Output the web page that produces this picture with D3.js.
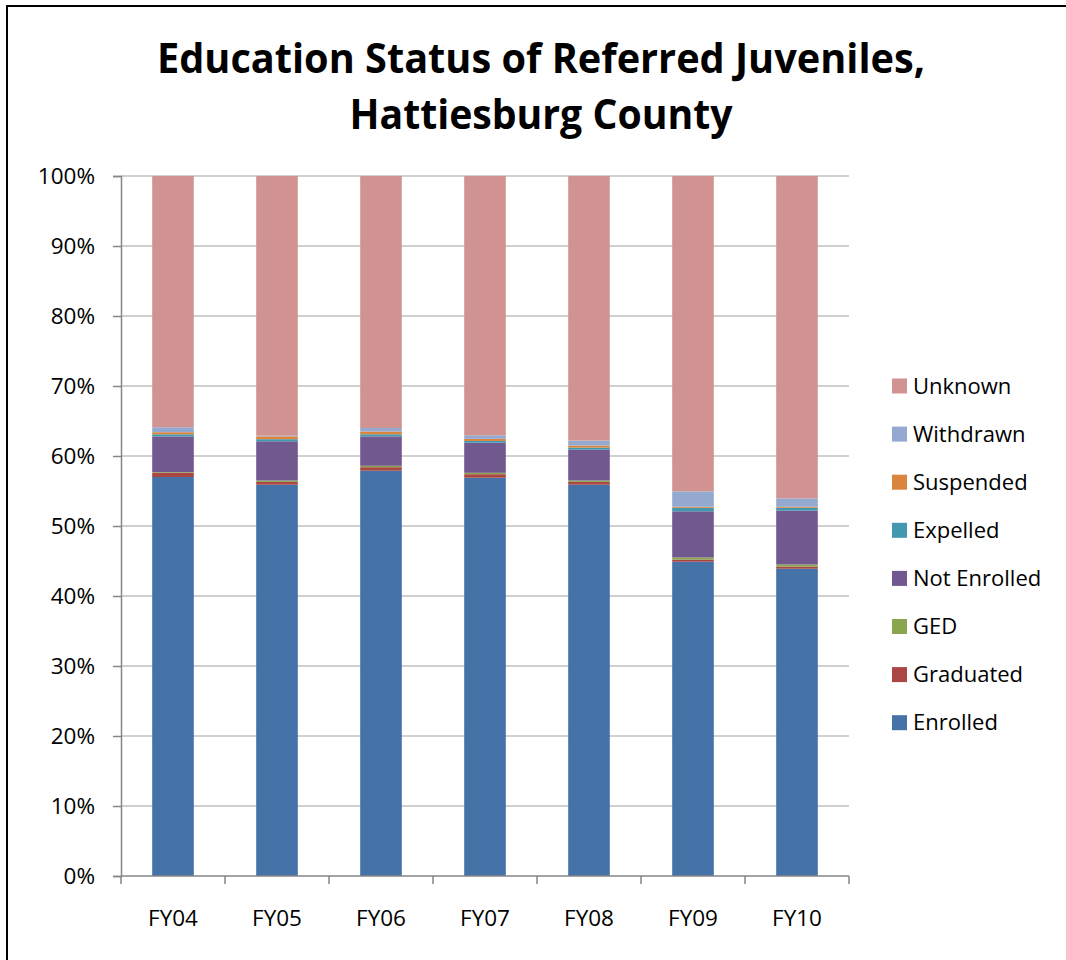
<!DOCTYPE html>
<html>
<head>
<meta charset="utf-8">
<script src="https://cdn.jsdelivr.net/npm/d3@7"></script>
<style>
  body { margin: 0; background: #fff; }
  text { font-family: "Open Sans", sans-serif; fill: #000; }
</style>
</head>
<body>
<div id="chart"></div>
<script>
// Education status of referred juveniles (percent of referrals)
const years = ['FY04', 'FY05', 'FY06', 'FY07', 'FY08', 'FY09', 'FY10'];
const statuses = ['Enrolled', 'Graduated', 'GED', 'Not Enrolled', 'Expelled', 'Suspended', 'Withdrawn', 'Unknown'];

const enrolled    = [57.0, 55.9, 57.9, 56.9, 55.9, 44.9, 43.9];
const graduated   = [0.6, 0.4, 0.5, 0.5, 0.4, 0.3, 0.3];
const ged         = [0.1, 0.2, 0.2, 0.2, 0.2, 0.3, 0.3];
const notEnrolled = [5.1, 5.6, 4.2, 4.3, 4.4, 6.6, 7.7];
const expelled    = [0.3, 0.3, 0.3, 0.25, 0.3, 0.5, 0.4];
const suspended   = [0.3, 0.4, 0.4, 0.3, 0.3, 0.15, 0.15];
const withdrawn   = [0.7, 0.1, 0.5, 0.5, 0.7, 2.2, 1.2];
const unknown     = [35.9, 37.1, 36.0, 37.05, 37.8, 45.05, 46.05];

const yTicks = [0, 10, 20, 30, 40, 50, 60, 70, 80, 90, 100];
const colors = ['#4572A7', '#AA4643', '#89A54E', '#71588F', '#4198AF', '#DB843D', '#93A9CF', '#D19392'];

const width = 1066, height = 960;
const margin = {top: 176, left: 121, right: 217, bottom: 84};

const series = [enrolled, graduated, ged, notEnrolled, expelled, suspended, withdrawn, unknown];
const rows = years.map((y, i) => {
  const r = {year: y};
  statuses.forEach((s, k) => r[s] = series[k][i]);
  return r;
});

const stacked = d3.stack()
    .keys(statuses)
    .offset(d3.stackOffsetExpand)(rows);

const x = d3.scaleBand()
    .domain(years)
    .range([margin.left, width - margin.right])
    .paddingInner(0.6)
    .paddingOuter(0.3);

const xEdges = d3.scaleLinear()
    .domain([0, years.length])
    .range([margin.left, width - margin.right]);

const y = d3.scaleLinear()
    .domain([0, 100])
    .range([height - margin.bottom, margin.top]);

const color = d3.scaleOrdinal()
    .domain(statuses)
    .range(colors);

const svg = d3.select('#chart')
  .append('svg')
    .attr('width', width)
    .attr('height', height);

// outer frame
svg.append('rect')
    .attr('x', 7)
    .attr('y', 6)
    .attr('width', width + 20)
    .attr('height', height + 20)
    .attr('fill', 'none')
    .attr('stroke', '#000')
    .attr('stroke-width', 2);

// title
const title = svg.append('g')
    .attr('font-weight', 700)
    .attr('text-anchor', 'middle');
title.append('text')
    .attr('x', 541)
    .attr('y', 73)
    .attr('font-size', 41)
    .attr('textLength', 768)
    .attr('lengthAdjust', 'spacingAndGlyphs')
    .text('Education Status of Referred Juveniles,');
title.append('text')
    .attr('x', 541)
    .attr('y', 129)
    .attr('font-size', 41)
    .attr('textLength', 383)
    .attr('lengthAdjust', 'spacingAndGlyphs')
    .text('Hattiesburg County');

// gridlines
svg.append('g')
    .selectAll('line')
    .data(yTicks.filter(d => d > 0))
    .join('line')
      .attr('x1', margin.left)
      .attr('x2', width - margin.right)
      .attr('y1', d => y(d))
      .attr('y2', d => y(d))
      .attr('stroke', '#c0c0c0')
      .attr('stroke-width', 1.5);

// y axis
const yAxis = svg.append('g')
    .attr('transform', `translate(${margin.left},0)`)
    .call(d3.axisLeft(y).tickValues(yTicks).tickFormat(d => d + '%').tickSize(8).tickPadding(18));
yAxis.select('.domain').attr('stroke', '#868686').attr('stroke-width', 1.5);
yAxis.selectAll('.tick line').attr('stroke', '#868686').attr('stroke-width', 1.5);
yAxis.selectAll('.tick text')
    .attr('font-family', '"Open Sans", sans-serif')
    .attr('font-size', 22.5)
    .attr('fill', '#000');

// bars
svg.append('g')
  .selectAll('g')
  .data(stacked)
  .join('g')
    .attr('fill', d => color(d.key))
  .selectAll('rect')
  .data(d => d)
  .join('rect')
    .attr('x', d => x(d.data.year))
    .attr('width', x.bandwidth())
    .attr('y', d => y(d[1] * 100))
    .attr('height', d => y(d[0] * 100) - y(d[1] * 100));

// x axis
const xAxis = svg.append('g')
    .attr('transform', `translate(0,${height - margin.bottom})`);
xAxis.append('line')
    .attr('x1', margin.left)
    .attr('x2', width - margin.right)
    .attr('stroke', '#868686')
    .attr('stroke-width', 1.5);
xAxis.selectAll('.edge')
  .data(d3.range(years.length + 1))
  .join('line')
    .attr('class', 'edge')
    .attr('x1', d => xEdges(d))
    .attr('x2', d => xEdges(d))
    .attr('y2', 8)
    .attr('stroke', '#868686')
    .attr('stroke-width', 1.5);
xAxis.selectAll('text')
  .data(years)
  .join('text')
    .attr('x', d => x(d) + x.bandwidth() / 2)
    .attr('y', 50)
    .attr('text-anchor', 'middle')
    .attr('font-size', 22.5)
    .text(d => d);

// legend (top entry = last series)
const legend = svg.append('g')
  .selectAll('g')
  .data(statuses.slice().reverse())
  .join('g')
    .attr('transform', (d, i) => `translate(892,${386 + i * 48.1})`);
legend.append('rect')
    .attr('y', -7.5)
    .attr('width', 15)
    .attr('height', 15)
    .attr('fill', d => color(d));
legend.append('text')
    .attr('x', 21)
    .attr('dy', '0.35em')
    .attr('font-size', 22)
    .text(d => d);
</script>
</body>
</html>
